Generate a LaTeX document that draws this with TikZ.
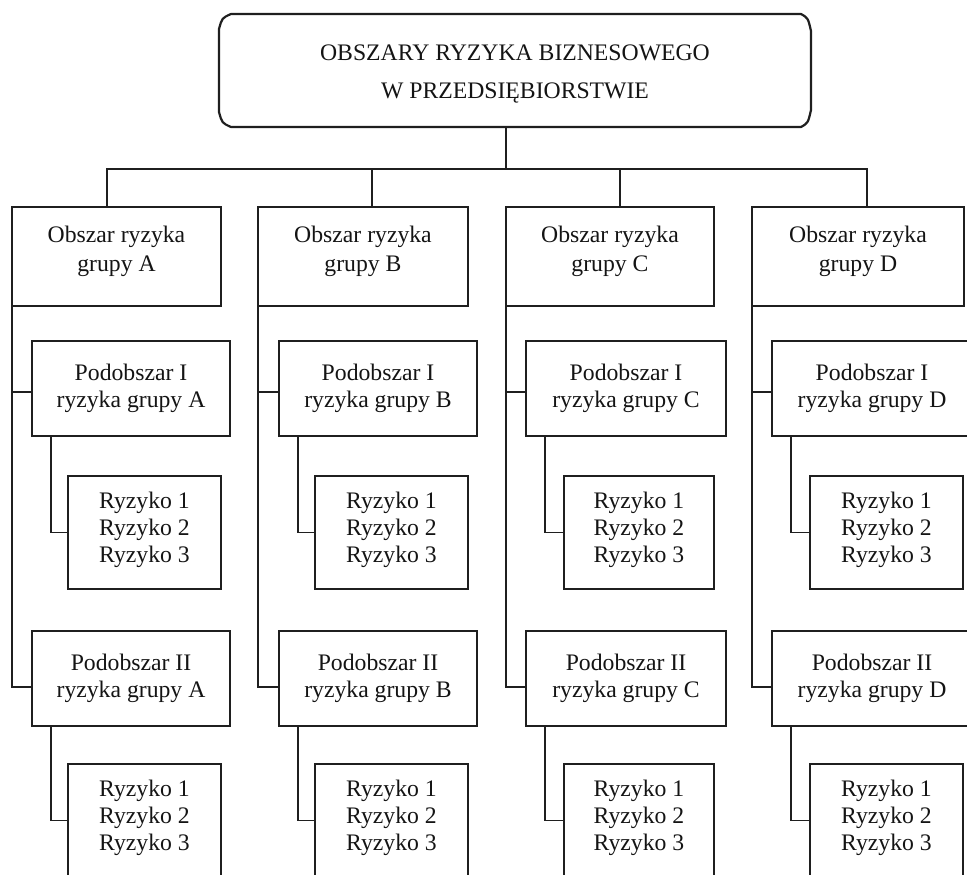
\documentclass[tikz,border=0pt]{standalone}
\usepackage{fontspec}
\setmainfont{Liberation Serif}
\newcommand\dpfix[1]{\rule[-#1]{0pt}{0pt}}
\begin{document}
\begin{tikzpicture}[x=1pt,y=-1pt,
  boxbase/.style={draw=black!88, line width=2.2pt, inner sep=0pt, outer sep=0pt, align=center,
     text=black!92, font=\fontsize{23.7pt}{27pt}\selectfont},
  obox/.style={boxbase, minimum height=99pt, font=\fontsize{23.7pt}{29pt}\selectfont},
  pbox/.style={boxbase, minimum height=95pt},
  rbox/.style={boxbase, minimum height=113pt},
  tbox/.style={boxbase, draw=none, minimum width=592pt, minimum height=113pt,
     font=\fontsize{23.7pt}{38pt}\selectfont},
  tline/.style={draw=black!88, line width=2.2pt, line join=round},
  conn/.style={draw=black!88, line width=1.5pt}]
\useasboundingbox (0,0) rectangle (967,875);
\clip (0,0) rectangle (967,875);

% title
\node[tbox] (title) at (515,70.5) {\rule{0pt}{22pt}OBSZARY RYZYKA BIZNESOWEGO\\W PRZEDSIĘBIORSTWIE};
\draw[tline] ([xshift=12pt]title.north west) -- ([xshift=-10pt]title.north east)
  .. controls ([xshift=-3pt,yshift=-4pt]title.north east) .. ([yshift=-17pt]title.north east)
  -- ([yshift=17pt]title.south east)
  .. controls ([xshift=-3pt,yshift=4pt]title.south east) .. ([xshift=-10pt]title.south east)
  -- ([xshift=12pt]title.south west)
  .. controls ([xshift=3pt,yshift=4pt]title.south west) .. ([yshift=15pt]title.south west)
  -- ([yshift=-15pt]title.north west)
  .. controls ([xshift=3pt,yshift=-4pt]title.north west) .. cycle;

% Obszar boxes
\node[obox, minimum width=209pt] (oA) at (116.5,256.5) {Obszar ryzyka\\grupy A\dpfix{15pt}};
\node[obox, minimum width=210pt] (oB) at (363,256.5) {Obszar ryzyka\\grupy B\dpfix{15pt}};
\node[obox, minimum width=208pt] (oC) at (610,256.5) {Obszar ryzyka\\grupy C\dpfix{15pt}};
\node[obox, minimum width=212pt] (oD) at (858,256.5) {Obszar ryzyka\\grupy D\dpfix{15pt}};

% Podobszar I
\node[pbox, minimum width=198pt] (pIA) at (131,388.5) {Podobszar I\\ryzyka grupy A};
\node[pbox, minimum width=198pt] (pIB) at (378,388.5) {Podobszar I\\ryzyka grupy B};
\node[pbox, minimum width=200pt] (pIC) at (626,388.5) {Podobszar I\\ryzyka grupy C};
\node[pbox, minimum width=200pt] (pID) at (872,388.5) {Podobszar I\\ryzyka grupy D};

% Podobszar II
\node[pbox, minimum width=198pt] (pIIA) at (131,678.5) {Podobszar II\\ryzyka grupy A};
\node[pbox, minimum width=198pt] (pIIB) at (378,678.5) {Podobszar II\\ryzyka grupy B};
\node[pbox, minimum width=200pt] (pIIC) at (626,678.5) {Podobszar II\\ryzyka grupy C};
\node[pbox, minimum width=200pt] (pIID) at (872,678.5) {Podobszar II\\ryzyka grupy D};

% Ryzyko I
\node[rbox, minimum width=153pt] (rIA) at (144.5,532.5) {Ryzyko 1\\Ryzyko 2\\Ryzyko 3\dpfix{11pt}};
\node[rbox, minimum width=153pt] (rIB) at (391.5,532.5) {Ryzyko 1\\Ryzyko 2\\Ryzyko 3\dpfix{11pt}};
\node[rbox, minimum width=150pt] (rIC) at (639,532.5) {Ryzyko 1\\Ryzyko 2\\Ryzyko 3\dpfix{11pt}};
\node[rbox, minimum width=153pt] (rID) at (886.5,532.5) {Ryzyko 1\\Ryzyko 2\\Ryzyko 3\dpfix{11pt}};

% Ryzyko II
\node[rbox, minimum width=153pt] (rIIA) at (144.5,820.5) {Ryzyko 1\\Ryzyko 2\\Ryzyko 3\dpfix{11pt}};
\node[rbox, minimum width=153pt] (rIIB) at (391.5,820.5) {Ryzyko 1\\Ryzyko 2\\Ryzyko 3\dpfix{11pt}};
\node[rbox, minimum width=150pt] (rIIC) at (639,820.5) {Ryzyko 1\\Ryzyko 2\\Ryzyko 3\dpfix{11pt}};
\node[rbox, minimum width=153pt] (rIID) at (886.5,820.5) {Ryzyko 1\\Ryzyko 2\\Ryzyko 3\dpfix{11pt}};

% top connectors
\coordinate (hub) at (506,169);
\draw[conn] (title.south -| hub) -- (hub);
\draw[conn] ([xshift=-9.5pt]oA.north) |- (hub);
\draw[conn] ([xshift=9pt]oB.north) |- (hub);
\draw[conn] ([xshift=10pt]oC.north) |- (hub);
\draw[conn] ([xshift=9pt]oD.north) |- (hub);

% column connectors
\foreach \c in {A,B,C,D}{
  \draw[conn] (o\c.south west) |- ([yshift=-3.5pt]pI\c.west);
  \draw[conn] (o\c.south west) |- ([yshift=-8.5pt]pII\c.west);
  \draw[conn] ([xshift=19pt]pI\c.south west) |- (rI\c.west);
  \draw[conn] ([xshift=19pt]pII\c.south west) |- (rII\c.west);
}
\end{tikzpicture}
\end{document}
